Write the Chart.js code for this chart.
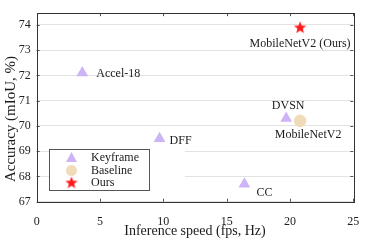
<!DOCTYPE html>
<html>
<head>
<meta charset="utf-8">
<script src="https://cdn.jsdelivr.net/npm/chart.js@4"></script>
<style>
  html, body { margin: 0; background: #fff; }
  #wrap { width: 365px; height: 243px; }
</style>
</head>
<body>
<div id="wrap"><canvas id="chart"></canvas></div>
<script>
const keyframeNames = ["Accel-18", "DFF", "CC", "DVSN"];
const keyframeSpeed = [3.6, 9.7, 16.4, 19.7];
const keyframeAcc = [72.1, 69.5, 67.7, 70.3];
const baselineNames = ["MobileNetV2"];
const baselineSpeed = [20.8];
const baselineAcc = [70.2];
const oursNames = ["MobileNetV2 (Ours)"];
const oursSpeed = [20.8];
const oursAcc = [73.9];
const xTicks = [0, 5, 10, 15, 20, 25];
const yTicks = [67, 68, 69, 70, 71, 72, 73, 74];
const legendLabels = ["Keyframe", "Baseline", "Ours"];

const FONT = "'Liberation Serif', 'DejaVu Serif', serif";
const purple = "#cdb4f6";
const wheat = "#f1dcb9";
const red = "#ff1a1a";

// label placement: pixel offset from the point + alignment
const labelPos = {
  "Accel-18": [14, 1, "left"],
  "DFF": [10, 2, "left"],
  "CC": [12, 9, "left"],
  "DVSN": [2, -12, "center"],
  "MobileNetV2": [8, 14, "center"],
  "MobileNetV2 (Ours)": [0, 16, "center"],
};

const starImg = (() => {
  const c = document.createElement("canvas");
  c.width = 14; c.height = 14;
  const g = c.getContext("2d");
  g.fillStyle = red;
  g.beginPath();
  for (let k = 0; k < 10; k++) {
    const r = k % 2 === 0 ? 6.5 : 2.8;
    const a = -Math.PI / 2 + k * Math.PI / 5;
    g.lineTo(7 + r * Math.cos(a), 7.5 + r * Math.sin(a));
  }
  g.closePath();
  g.fill();
  return c;
})();

const toPts = (xs, ys) => xs.map((x, k) => ({ x: x, y: ys[k] }));

const frame = {
  id: "frame",
  beforeDatasetsDraw(chart) {
    const { ctx, chartArea: a, scales } = chart;
    ctx.save();
    ctx.strokeStyle = "#555";
    ctx.lineWidth = 1;
    // inward ticks on all four sides
    ctx.beginPath();
    xTicks.forEach((v) => {
      const px = Math.round(scales.x.getPixelForValue(v)) + 0.5;
      ctx.moveTo(px, a.bottom); ctx.lineTo(px, a.bottom - 3);
      ctx.moveTo(px, a.top); ctx.lineTo(px, a.top + 3);
    });
    yTicks.forEach((v) => {
      const py = Math.round(scales.y.getPixelForValue(v)) + 0.5;
      ctx.moveTo(a.left, py); ctx.lineTo(a.left + 3, py);
      ctx.moveTo(a.right, py); ctx.lineTo(a.right - 3, py);
    });
    ctx.stroke();
    ctx.strokeStyle = "#333";
    ctx.strokeRect(Math.round(a.left) + 0.5, Math.round(a.top) + 0.5,
      Math.round(a.right - a.left), Math.round(a.bottom - a.top));
    // legend background (white) and box
    ctx.fillStyle = "#fff";
    ctx.fillRect(49, 149, 136, 42);
    ctx.strokeStyle = "#555";
    ctx.strokeRect(49.5, 149.5, 100, 41);
    ctx.restore();
  },
  afterDatasetsDraw(chart) {
    const { ctx, scales } = chart;
    ctx.save();
    ctx.fillStyle = "#1a1a1a";
    ctx.font = "12px " + FONT;
    ctx.textBaseline = "middle";
    chart.data.datasets.forEach((ds) => {
      ds.data.forEach((p, k) => {
        const name = ds.names[k];
        const [dx, dy, al] = labelPos[name];
        ctx.textAlign = al;
        ctx.fillText(name, scales.x.getPixelForValue(p.x) + dx,
          scales.y.getPixelForValue(p.y) + dy);
      });
    });
    // legend entries
    const rows = [157.5, 170.5, 183];
    chart.data.datasets.forEach((ds, k) => {
      const y = rows[k];
      if (ds.pointStyle === "triangle") {
        ctx.fillStyle = purple;
        ctx.beginPath();
        ctx.moveTo(71.5, y - 5.5); ctx.lineTo(77, y + 4.5); ctx.lineTo(66, y + 4.5);
        ctx.closePath(); ctx.fill();
      } else if (ds.pointStyle === "circle") {
        ctx.fillStyle = wheat;
        ctx.beginPath(); ctx.arc(71.5, y, 5.5, 0, Math.PI * 2); ctx.fill();
      } else {
        ctx.drawImage(starImg, 64.5, y - 7.5);
      }
      ctx.fillStyle = "#1a1a1a";
      ctx.textAlign = "left";
      ctx.fillText(legendLabels[k], 91, y);
    });
    // axis titles
    ctx.font = "14px " + FONT;
    ctx.textAlign = "center";
    ctx.fillText("Inference speed (fps, Hz)", 195, 231);
    ctx.translate(11, 119);
    ctx.rotate(-Math.PI / 2);
    ctx.font = "15px " + FONT;
    ctx.fillText("Accuracy (mIoU, %)", 0, 0);
    ctx.restore();
  },
};

new Chart(document.getElementById("chart"), {
  type: "scatter",
  data: {
    datasets: [
      {
        label: legendLabels[0], names: keyframeNames,
        data: toPts(keyframeSpeed, keyframeAcc),
        pointStyle: "triangle", pointRadius: 6.8,
        backgroundColor: purple, borderColor: purple, borderWidth: 0,
      },
      {
        label: legendLabels[1], names: baselineNames,
        data: toPts(baselineSpeed, baselineAcc),
        pointStyle: "circle", pointRadius: 6.3,
        backgroundColor: wheat, borderColor: wheat, borderWidth: 0,
      },
      {
        label: legendLabels[2], names: oursNames,
        data: toPts(oursSpeed, oursAcc),
        pointStyle: starImg,
      },
    ],
  },
  options: {
    responsive: true,
    maintainAspectRatio: false,
    animation: false,
    events: [],
    layout: { padding: { top: 12.7, right: 11.7, left: 0, bottom: 0 } },
    plugins: { legend: { display: false }, tooltip: { enabled: false } },
    scales: {
      x: {
        type: "linear", min: 0, max: 25,
        afterFit: (s) => { s.height = 41.3; },
        afterBuildTicks: (s) => { s.ticks = xTicks.map((v) => ({ value: v })); },
        grid: { display: false },
        border: { display: false },
        ticks: { color: "#222", padding: 5, maxRotation: 0, font: { family: FONT, size: 12 } },
      },
      y: {
        type: "linear", min: 67, max: 74.46,
        afterFit: (s) => { s.width = 36.7; },
        afterBuildTicks: (s) => { s.ticks = yTicks.map((v) => ({ value: v })); },
        grid: { color: "#e3e3e3", drawTicks: false },
        border: { display: false },
        ticks: { color: "#222", padding: 6, font: { family: FONT, size: 12 } },
      },
    },
  },
  plugins: [frame],
});
</script>
</body>
</html>
